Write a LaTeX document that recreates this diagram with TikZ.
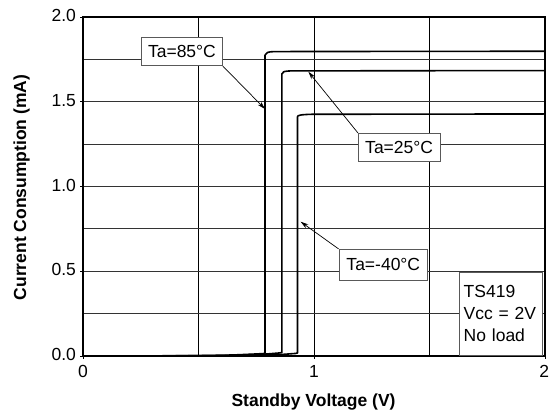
\documentclass[tikz,border=0pt]{standalone}
\usepackage{fontspec}
\setmainfont{Liberation Sans}
\usetikzlibrary{arrows.meta}
\tikzset{
  txt/.style={font=\fontsize{17.5}{21}\selectfont},
  axlab/.style={font=\fontsize{17.5}{21}\selectfont\bfseries},
  gridv/.style={line width=0.9pt, black},
  gridh/.style={line width=0.9pt, black!80},
  frame/.style={line width=1.3pt, black},
  curve/.style={line width=1.6pt, black, line join=round},
  tag/.style={draw=black!65, fill=white, line width=0.8pt, inner sep=0pt, txt},
  pointer/.style={line width=0.7pt, black, -{Stealth[length=8pt,width=4.5pt]}},
  ticklab/.style={txt, inner sep=0pt}
}
\begin{document}
\begin{tikzpicture}[x=231pt,y=169.5pt]
\useasboundingbox (-0.3593,-0.3304) rectangle (2.0563,2.1003);
% grid
\foreach \v in {0.5,1,1.5} \draw[gridv] (\v,0) -- (\v,2);
\foreach \i in {0.25,0.5,...,1.75} \draw[gridh] (0,\i) -- (2,\i);
% ticks
\foreach \i in {0,0.5,...,2} \draw[line width=0.9pt] (-0.012,\i) -- (0,\i);
\foreach \v in {0,1,2} \draw[line width=0.9pt] (\v,0) -- (\v,-0.02);
\draw[frame] (0,0) rectangle (2,2);
% tick labels
\node[ticklab, anchor=base east] (y0) at (-0.03,-0.0277) {0.0};
\node[ticklab, anchor=base east] (y05) at (-0.03,0.4723) {0.5};
\node[ticklab, anchor=base east] (y10) at (-0.03,0.9723) {1.0};
\node[ticklab, anchor=base east] (y15) at (-0.03,1.4723) {1.5};
\node[ticklab, anchor=base east] (y20) at (-0.03,1.9723) {2.0};
\node[ticklab, anchor=base] (x0) at (0,-0.124) {0};
\node[ticklab, anchor=base] (x1) at (1,-0.124) {1};
\node[ticklab, anchor=base] (x2) at (1.997,-0.124) {2};
% axis labels
\node[axlab, anchor=base, inner sep=0pt] (xlab) at (0.998,-0.299) {Standby Voltage (V)};
\node[axlab, rotate=90, inner sep=0pt] (ylab) at (-0.2654,0.994) {Current Consumption (mA)};
% curves
\draw[curve] (0,0) -- (0.45,0.001) -- (0.65,0.006) -- (0.75,0.012) -- (0.788,0.015)
  -- (0.788,1.775) .. controls (0.79,1.79) and (0.80,1.795) .. (0.83,1.796) -- (2,1.798);
\draw[curve] (0,0) -- (0.6,0.002) -- (0.78,0.01) -- (0.85,0.018) -- (0.861,0.02)
  -- (0.861,1.665) .. controls (0.863,1.678) and (0.87,1.68) .. (0.90,1.682) -- (2,1.684);
\draw[curve] (0,0) -- (0.7,0.002) -- (0.85,0.008) -- (0.92,0.015) -- (0.9286,0.018)
  -- (0.9286,1.412) .. controls (0.93,1.42) and (0.94,1.424) .. (0.99,1.426) -- (2,1.428);
% labels
\node[tag, minimum width=81pt, minimum height=28.4pt] (l85) at (0.4283,1.7965) {Ta=85°C};
\node[tag, minimum width=81.7pt, minimum height=28.4pt] (l25) at (1.3686,1.2301) {Ta=25°C};
\node[tag, minimum width=88.7pt, minimum height=30.7pt] (l40) at (1.3,0.539) {Ta=-40°C};
\node[draw=black!65, fill=white, line width=0.8pt, font=\fontsize{17.5}{22}\selectfont,
  align=left, text width=75pt, inner xsep=4pt, inner ysep=0pt,
  minimum height=82.7pt, anchor=south west] (cond) at (1.629,0.002) {TS419\\Vcc = 2V\\No load};
\coordinate (t85) at (0.788,1.4572);
\coordinate (t25) at (0.9755,1.6773);
\coordinate (t40) at (0.942,0.7923);
\draw[pointer] (l85.south east) -- (t85);
\draw[pointer] (l25.north west) -- (t25);
\draw[pointer] (l40.north west) -- (t40);
\end{tikzpicture}
\end{document}
